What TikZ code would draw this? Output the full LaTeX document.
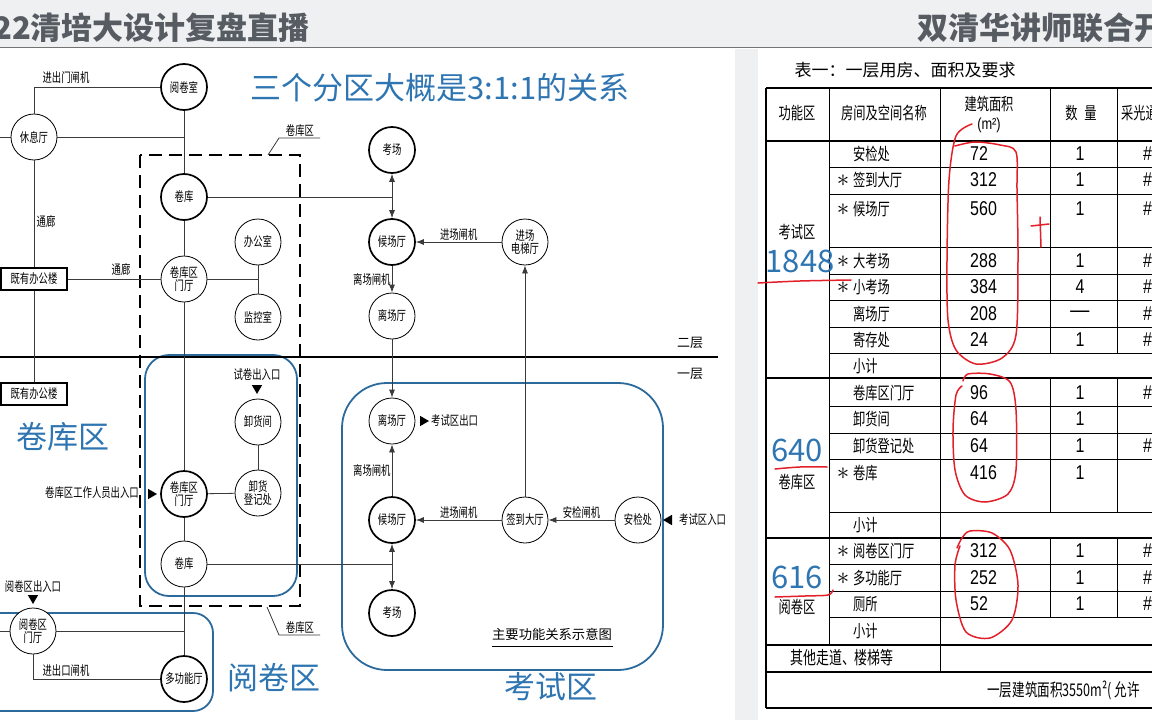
\documentclass[tikz,border=0pt]{standalone}
\usepackage{fontspec}
\setmainfont{Noto Sans CJK SC}
\newfontfamily\cjkn{Noto Sans CJK SC}[FakeStretch=0.72]
\newfontfamily\numfont{Liberation Sans}[FakeStretch=0.8]
\usetikzlibrary{positioning,arrows.meta,shapes.geometric}
\definecolor{zoneblue}{HTML}{2C6A9C}
\definecolor{bigblue}{HTML}{2E75B2}
\definecolor{bandgray}{HTML}{EFF0F2}
\definecolor{titlegray}{HTML}{575C63}
\definecolor{redpen}{HTML}{E2202A}
\definecolor{linegray}{HTML}{3A3A3A}

\begin{document}
\begin{tikzpicture}[x=1pt,y=-1pt,
    room/.style={circle, draw=black, line width=0.8pt, fill=white, minimum size=46pt, inner sep=0pt, align=center, font=\cjkn\fontsize{13}{13.5}\selectfont},
    mainroom/.style={room, line width=1.7pt},
    oldbldg/.style={rectangle, draw=black, line width=1.3pt, fill=white, minimum width=66pt, minimum height=22pt, inner sep=0pt, font=\cjkn\fontsize{13}{13}\selectfont},
    lbl/.style={inner sep=1pt, font=\cjkn\fontsize{13}{13}\selectfont},
    gate/.style={regular polygon, regular polygon sides=3, fill=black, inner sep=0pt, minimum size=12pt},
    link/.style={draw=linegray, line width=0.8pt},
    flow/.style={link, -{Latex[length=8pt,width=6pt]}},
    twoway/.style={link, {Latex[length=8pt,width=6pt]}-{Latex[length=8pt,width=6pt]}},
    zone/.style={draw=zoneblue, line width=1.8pt},
    zonename/.style={text=bigblue, inner sep=0pt, font=\fontsize{31}{31}\selectfont},
    cell/.style={inner sep=0pt, font=\cjkn\fontsize{17}{17}\selectfont},
    num/.style={inner sep=0pt, font=\numfont\fontsize{20}{20}\selectfont},
    star/.style={inner sep=0pt, font=\fontsize{26}{26}\selectfont},
    thinrule/.style={line width=0.8pt},
    thickrule/.style={line width=1.6pt},
    pen/.style={draw=redpen, line width=1.5pt, line cap=round, line join=round}]
    \useasboundingbox (0,0) rectangle (1152,720);
    \clip (0,0) rectangle (1152,720);
    % slide header and panels
    \fill[bandgray] (0,0) rectangle (1152,47);
    \draw[black!55, line width=1.2pt] (0,47.5) -- (1152,47.5);
    \fill[bandgray] (735,48.5) rectangle (758,720);
    \node[anchor=west, inner sep=0pt, text=titlegray, font=\bfseries\fontsize{31}{31}\selectfont] (ttl) at (-7,28) {22清培大设计复盘直播};
    \node[anchor=west, inner sep=0pt, text=titlegray, font=\bfseries\fontsize{31}{31}\selectfont] (ttr) at (917,28) {双清华讲师联合开};
    \node[zonename] (ratio) at (440,88) {三个分区大概是3:1:1的关系};

    % zones
    \draw[line width=1.6pt, dash pattern=on 13pt off 7pt] (140,155) rectangle (300,606);
    \draw[zone, rounded corners=24pt] (145,355) rectangle (297,596);
    \draw[zone, rounded corners=20pt] (-20,613) rectangle (213,711);
    \draw[zone, rounded corners=45pt] (342,383) rectangle (663,670);
    % floor line
    \draw[line width=1.8pt] (0,357) -- (718,357);
    \node[inner sep=0pt, font=\fontsize{13}{13}\selectfont] (f2) at (690,343) {二层};
    \node[inner sep=0pt, font=\fontsize{13}{13}\selectfont] (f1) at (690,374) {一层};

    % rooms
    \node[mainroom] (yjs) at (184,87) {阅卷室};
    \node[room] (xxt) at (34,137) {休息厅};
    \node[mainroom] (jk1) at (184,197) {卷库};
    \node[room] (jkmt1) at (184,279) {卷库区\\门厅};
    \node[room] (bgs) at (258,242) {办公室};
    \node[room] (jks) at (258,317) {监控室};
    \node[room] (xhj) at (258,422) {卸货间};
    \node[room] (xhdj) at (258,493) {卸货\\登记处};
    \node[mainroom] (jkmt2) at (184,494) {卷库区\\门厅};
    \node[room] (jk2) at (184,564) {卷库};
    \node[room] (yjmt) at (33,631) {阅卷区\\门厅};
    \node[mainroom] (dgn) at (184,679) {多功能厅};
    \node[mainroom] (kc1) at (392,150) {考场};
    \node[mainroom] (hc1) at (392,242) {候场厅};
    \node[room] (dt) at (525,242) {进场\\电梯厅};
    \node[room] (lc1) at (392,316) {离场厅};
    \node[room] (lc2) at (392,421) {离场厅};
    \node[mainroom] (hc2) at (392,520) {候场厅};
    \node[room] (qd) at (525,520) {签到大厅};
    \node[room] (aj) at (638,520) {安检处};
    \node[mainroom] (kc2) at (392,613) {考场};
    \node[oldbldg] (bg1) at (34,279) {既有办公楼};
    \node[oldbldg] (bg2) at (34,394) {既有办公楼};

    % entrances
    \node[gate, shape border rotate=180] (g1) at (257,388) {};
    \node[lbl] (g1t) at (257,375) {试卷出入口};
    \node[gate, shape border rotate=-90] (g2) at (151,494) {};
    \node[lbl, anchor=east] (g2t) at (140,493) {卷库区工作人员出入口};
    \node[gate, shape border rotate=180] (g3) at (33,598) {};
    \node[lbl] (g3t) at (33,587) {阅卷区出入口};
    \node[gate, shape border rotate=-90] (g4) at (423,421) {};
    \node[lbl, anchor=west] (g4t) at (430,421) {考试区出口};
    \node[gate, shape border rotate=90] (g5) at (669,520) {};
    \node[lbl, anchor=west] (g5t) at (678,520) {考试区入口};

    % lines
    \coordinate (lft1) at (0,137);
    \coordinate (lft2) at (0,631);
    \draw[link] (xxt) |- (yjs);
    \node[lbl] (zj1) at (66,78) {进出门闸机};
    \draw[link] (xxt) -- (lft1);
    \draw[link] (xxt) -- (xxt -| yjs);
    \draw[link] (yjs) -- (jk1);
    \draw[link] (jk1) -- (jkmt1);
    \draw[link] (jkmt1) -- (jkmt2);
    \draw[link] (jkmt2) -- (jk2);
    \draw[link] (jk2) -- (dgn);
    \draw[link] (xxt) -- (bg1);
    \draw[link] (bg1) -- (bg2);
    \draw[link] (bg1) -- (jkmt1);
    \draw[link] (jkmt1) -- (jkmt1 -| bgs);
    \draw[link] (bgs) -- (jks);
    \draw[link] (xhj) -- (xhdj);
    \draw[link] (jkmt2) -- (xhdj);
    \draw[link] (jk1) -- (jk1 -| kc1);
    \draw[link] (jk2) -- (jk2 -| kc2);
    \draw[link] (yjmt) -- (lft2);
    \draw[link] (yjmt) -- (yjmt -| dgn);
    \draw[link] (yjmt) |- (dgn);
    \node[lbl] (zj2) at (66,671) {进出口闸机};
    \node[lbl] (tl1) at (46,222) {通廊};
    \node[lbl] (tl2) at (121,270) {通廊};
    % arrows
    \draw[twoway] (kc1) -- (hc1);
    \draw[flow] (dt) -- (hc1) node[midway, above, lbl] {进场闸机};
    \draw[flow] (hc1) -- (lc1) node[midway, left, lbl] {离场闸机};
    \draw[flow] (lc1) -- (lc2);
    \draw[flow] (qd) -- (dt);
    \draw[flow] (hc2) -- (lc2) node[midway, left, lbl] {离场闸机};
    \draw[flow] (qd) -- (hc2) node[midway, above, lbl] {进场闸机};
    \draw[flow] (aj) -- (qd) node[midway, above, lbl] {安检闸机};
    \draw[twoway] (hc2) -- (kc2);

    % zone leaders and names
    \draw[link] (268,155) -- (279,138) -- (320,138);
    \node[lbl, above] (jkq1) at (300,138) {卷库区};
    \draw[link] (267,607) -- (279,635) -- (320,635);
    \node[lbl, above] (jkq2) at (300,635) {卷库区};
    \node[zonename] (zn1) at (63,437) {卷库区};
    \node[zonename] (zn2) at (274,678) {阅卷区};
    \node[zonename] (zn3) at (551,687) {考试区};
    \node[inner sep=1pt, font=\fontsize{13.3}{13.3}\selectfont] (cap) at (552,634) {主要功能关系示意图};
    \draw[line width=1pt] (492,646) -- (613,646);

    % table
    \node[inner sep=0pt, font=\fontsize{17}{17}\selectfont] (tbtitle) at (905,70) {表一：一层用房、面积及要求};
    \draw[thickrule] (766,88) -- (1160,88);
    \draw[thickrule] (766,141) -- (1160,141);
    \draw[thickrule] (766,378) -- (1160,378);
    \draw[thickrule] (766,538) -- (1160,538);
    \draw[thickrule] (766,645) -- (1160,645);
    \draw[thickrule] (766,672) -- (1160,672);
    \draw[thickrule] (766,708) -- (1160,708);
    \draw[thickrule] (766,88) -- (766,708);
    \draw[thinrule] (829,167) -- (1160,167);
    \draw[thinrule] (829,194) -- (1160,194);
    \draw[thinrule] (829,247) -- (1160,247);
    \draw[thinrule] (829,274) -- (1160,274);
    \draw[thinrule] (829,300) -- (1160,300);
    \draw[thinrule] (829,327) -- (1160,327);
    \draw[thinrule] (829,353) -- (1160,353);
    \draw[thinrule] (829,406) -- (1160,406);
    \draw[thinrule] (829,433) -- (1160,433);
    \draw[thinrule] (829,459) -- (1160,459);
    \draw[thinrule] (829,512) -- (1160,512);
    \draw[thinrule] (829,564) -- (1160,564);
    \draw[thinrule] (829,591) -- (1160,591);
    \draw[thinrule] (829,617) -- (1160,617);
    \draw[thinrule] (829,88) -- (829,645);
    \draw[thinrule] (940,88) -- (940,672);
    \draw[thinrule] (1050,88) -- (1050,353);
    \draw[thinrule] (1050,378) -- (1050,512);
    \draw[thinrule] (1050,538) -- (1050,617);
    \draw[thinrule] (1117,88) -- (1117,353);
    \draw[thinrule] (1117,378) -- (1117,512);
    \draw[thinrule] (1117,538) -- (1117,617);
    % header
    \node[cell] (h1) at (797,113) {功能区};
    \node[cell] (h2) at (884,113) {房间及空间名称};
    \node[cell] (h3) at (989,104) {建筑面积};
    \node[inner sep=0pt, font=\numfont\fontsize{16}{16}\selectfont] (h3u) at (989,125) {(m²)};
    \node[cell] (h4) at (1081,113) {数\hspace{7pt}量};
    \node[cell, anchor=west] (h5) at (1121,113) {采光通风};
    % zone column
    \node[cell] (z1) at (797,232) {考试区};
    \node[inner sep=0pt, text=bigblue, font=\fontsize{31}{31}\selectfont] (z1n) at (800,261) {1848};
    \node[inner sep=0pt, text=bigblue, font=\fontsize{31}{31}\selectfont] (z2n) at (797,450) {640};
    \node[cell] (z2) at (797,482) {卷库区};
    \node[inner sep=0pt, text=bigblue, font=\fontsize{31}{31}\selectfont] (z3n) at (797,577) {616};
    \node[cell] (z3) at (797,607) {阅卷区};
    % rooms column
    \node[cell, anchor=west] (r1) at (853,154) {安检处};
    \node[cell, anchor=west] (r2) at (853,180) {签到大厅};
    \node[cell, anchor=west] (r3) at (853,209) {候场厅};
    \node[cell, anchor=west] (r4) at (853,261) {大考场};
    \node[cell, anchor=west] (r5) at (853,287) {小考场};
    \node[cell, anchor=west] (r6) at (853,314) {离场厅};
    \node[cell, anchor=west] (r7) at (853,340) {寄存处};
    \node[cell, anchor=west] (r8) at (853,366) {小计};
    \node[cell, anchor=west] (r9) at (853,393) {卷库区门厅};
    \node[cell, anchor=west] (r10) at (853,419) {卸货间};
    \node[cell, anchor=west] (r11) at (853,446) {卸货登记处};
    \node[cell, anchor=west] (r12) at (853,473) {卷库};
    \node[cell, anchor=west] (r13) at (853,525) {小计};
    \node[cell, anchor=west] (r14) at (853,551) {阅卷区门厅};
    \node[cell, anchor=west] (r15) at (853,578) {多功能厅};
    \node[cell, anchor=west] (r16) at (853,604) {厕所};
    \node[cell, anchor=west] (r17) at (853,631) {小计};
    \node[inner sep=0pt, font=\cjkn\fontsize{18}{18}\selectfont] (r18) at (842,658) {其他走道、楼梯等};
    \node[inner sep=0pt, anchor=west, font=\cjkn\fontsize{17.5}{17.5}\selectfont] (r19) at (987,690) {一层建筑面积3550m²( 允许};
    % starred rooms
    \node[star] (s2) at (843,181) {$\ast$};
    \node[star] (s3) at (843,210) {$\ast$};
    \node[star] (s4) at (843,262) {$\ast$};
    \node[star] (s5) at (843,288) {$\ast$};
    \node[star] (s12) at (843,474) {$\ast$};
    \node[star] (s14) at (843,552) {$\ast$};
    \node[star] (s15) at (843,579) {$\ast$};
    % areas
    \node[num, anchor=west] (a1) at (970,154) {72};
    \node[num, anchor=west] (a2) at (970,180) {312};
    \node[num, anchor=west] (a3) at (970,209) {560};
    \node[num, anchor=west] (a4) at (970,261) {288};
    \node[num, anchor=west] (a5) at (970,287) {384};
    \node[num, anchor=west] (a6) at (970,314) {208};
    \node[num, anchor=west] (a7) at (970,340) {24};
    \node[num, anchor=west] (a9) at (970,393) {96};
    \node[num, anchor=west] (a10) at (970,419) {64};
    \node[num, anchor=west] (a11) at (970,446) {64};
    \node[num, anchor=west] (a12) at (970,473) {416};
    \node[num, anchor=west] (a14) at (970,551) {312};
    \node[num, anchor=west] (a15) at (970,578) {252};
    \node[num, anchor=west] (a16) at (970,604) {52};
    % quantities
    \node[num] (q1) at (1080,154) {1};
    \node[num] (q2) at (1080,180) {1};
    \node[num] (q3) at (1080,209) {1};
    \node[num] (q4) at (1080,261) {1};
    \node[num] (q5) at (1080,287) {4};
    \node[inner sep=0pt, font=\fontsize{24}{24}\selectfont] (q6) at (1080,315) {—};
    \node[num] (q7) at (1080,340) {1};
    \node[num] (q9) at (1080,393) {1};
    \node[num] (q10) at (1080,419) {1};
    \node[num] (q11) at (1080,446) {1};
    \node[num] (q12) at (1080,473) {1};
    \node[num] (q14) at (1080,551) {1};
    \node[num] (q15) at (1080,578) {1};
    \node[num] (q16) at (1080,604) {1};
    % lighting column
    \node[num, anchor=west] (p1) at (1143,154) {\#};
    \node[num, anchor=west] (p2) at (1143,180) {\#};
    \node[num, anchor=west] (p3) at (1143,209) {\#};
    \node[num, anchor=west] (p4) at (1143,261) {\#};
    \node[num, anchor=west] (p5) at (1143,287) {\#};
    \node[num, anchor=west] (p6) at (1143,314) {\#};
    \node[num, anchor=west] (p7) at (1143,340) {\#};
    \node[num, anchor=west] (p9) at (1143,393) {\#};
    \node[num, anchor=west] (p11) at (1143,446) {\#};
    \node[num, anchor=west] (p14) at (1143,551) {\#};
    \node[num, anchor=west] (p15) at (1143,578) {\#};
    \node[num, anchor=west] (p16) at (1143,604) {\#};

    % red pen marks
    \draw[pen] plot[smooth] coordinates {(972,124) (956,136) (949,180) (947,260) (948,320) (956,350) (976,364) (1002,358) (1016,335) (1018,260) (1017,190) (1016,152) (1000,145) (975,142) (955,146)};
    \draw[pen] (1040,217) -- (1041,247);
    \draw[pen] (1031,226) -- (1049,224);
    \draw[pen] plot[smooth] coordinates {(758,283) (800,281) (851,280)};
    \draw[pen] plot[smooth] coordinates {(963,381) (968,374) (990,374) (1010,382) (1016,410) (1016,470) (1008,494) (985,502) (965,495) (955,470) (953,430) (956,395) (962,386)};
    \draw[pen] plot[smooth] coordinates {(775,469) (800,467) (827,467)};
    \draw[pen] plot[smooth] coordinates {(957,548) (962,538) (970,531) (992,533) (1010,550) (1018,585) (1012,620) (990,638) (966,632) (956,600) (955,565) (960,546)};
    \draw[pen] plot[smooth] coordinates {(775,597) (805,596) (828,595) (833,590)};
\end{tikzpicture}
\end{document}
